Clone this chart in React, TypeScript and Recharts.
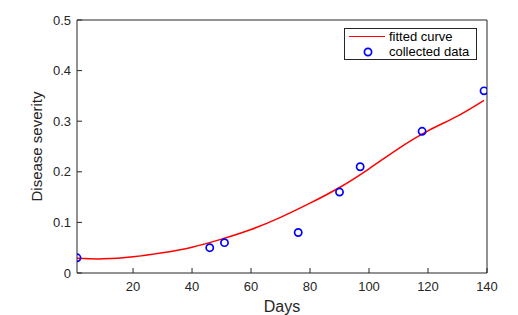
import {
  ComposedChart,
  Line,
  Scatter,
  XAxis,
  YAxis,
  Legend,
  Label,
} from 'recharts';

// collected field observations
const days = [1, 46, 51, 76, 90, 97, 118, 139];
const severity = [0.03, 0.05, 0.06, 0.08, 0.16, 0.21, 0.28, 0.36];

// fitted curve
const curveDays = [1, 10, 20, 30, 40, 50, 60, 70, 80, 90, 100, 110, 120, 130, 139];
const curveValues = [0.029, 0.028, 0.032, 0.04, 0.051, 0.067, 0.086, 0.11, 0.138, 0.169, 0.206, 0.246, 0.281, 0.31, 0.341];

const xTicks = [20, 40, 60, 80, 100, 120, 140];
const yTicks = [0, 0.1, 0.2, 0.3, 0.4, 0.5];

const FONT = '"Liberation Sans", Arial, Helvetica, sans-serif';
const AXIS = '#262626';
const TICK_LEN = 5;

const points = days.map((d, i) => ({ day: d, value: severity[i] }));
const curve = curveDays.map((d, i) => ({ day: d, value: curveValues[i] }));

const fmtY = (v: number) => (v === 0 ? '0' : v.toFixed(1));

function LeftTick({ x, y, payload }: any) {
  const ax = x + 6;
  return (
    <g>
      <line x1={ax} x2={ax + TICK_LEN} y1={y} y2={y} stroke={AXIS} />
      <text x={x} y={y} dy={4.5} textAnchor="end" fill={AXIS} fontSize={13} fontFamily={FONT}>
        {fmtY(payload.value)}
      </text>
    </g>
  );
}

function BottomTick({ x, y, payload }: any) {
  const ay = y - 8;
  return (
    <g>
      <line x1={x} x2={x} y1={ay} y2={ay - TICK_LEN} stroke={AXIS} />
      <text x={x} y={y} dy={10} textAnchor="middle" fill={AXIS} fontSize={13} fontFamily={FONT}>
        {payload.value}
      </text>
    </g>
  );
}

function RightTick({ x, y }: any) {
  return <line x1={x} x2={x - TICK_LEN} y1={y} y2={y} stroke={AXIS} />;
}

function TopTick({ x, y }: any) {
  return <line x1={x} x2={x} y1={y} y2={y + TICK_LEN} stroke={AXIS} />;
}

function Circle({ cx, cy }: any) {
  return <circle cx={cx} cy={cy} r={3.6} fill="none" stroke="#0000ff" strokeWidth={1.7} />;
}

function LegendBox() {
  return (
    <div
      style={{
        position: 'relative',
        width: 133,
        height: 32,
        border: `1px solid ${AXIS}`,
        background: '#fff',
        boxSizing: 'border-box',
        fontFamily: FONT,
        fontSize: 13,
        color: '#000',
        lineHeight: '15px',
      }}
    >
      <div style={{ position: 'absolute', left: 4, top: 7, width: 36, borderTop: '1.5px solid #ff0000' }} />
      <span style={{ position: 'absolute', left: 44, top: 0 }}>fitted curve</span>
      <svg style={{ position: 'absolute', left: 16, top: 16 }} width={14} height={14}>
        <circle cx={7} cy={7} r={3.6} fill="none" stroke="#0000ff" strokeWidth={1.7} />
      </svg>
      <span style={{ position: 'absolute', left: 44, top: 15 }}>collected data</span>
    </div>
  );
}

export default function App() {
  return (
    <div style={{ position: 'absolute', left: 0, top: 0, background: '#fff' }}>
      <ComposedChart width={518} height={315} margin={{ top: 0, right: 0, bottom: 0, left: 0 }}>
        <XAxis
          dataKey="day"
          type="number"
          domain={[1, 140]}
          ticks={xTicks}
          allowDataOverflow
          height={42}
          tickSize={0}
          tickMargin={8}
          stroke={AXIS}
          tick={<BottomTick />}
        >
          <Label value="Days" position="insideBottom" offset={3} fill={AXIS} fontSize={16} fontFamily={FONT} />
        </XAxis>
        <XAxis
          xAxisId="top"
          orientation="top"
          type="number"
          domain={[1, 140]}
          ticks={xTicks}
          height={20}
          tickSize={0}
          tickMargin={0}
          stroke={AXIS}
          tick={<TopTick />}
        />
        <YAxis
          type="number"
          domain={[0, 0.5]}
          ticks={yTicks}
          width={77}
          tickSize={0}
          tickMargin={6}
          stroke={AXIS}
          tick={<LeftTick />}
        >
          <Label value="Disease severity" angle={-90} position="center" dx={-2} fill={AXIS} fontSize={15} fontFamily={FONT} />
        </YAxis>
        <YAxis
          yAxisId="right"
          orientation="right"
          type="number"
          domain={[0, 0.5]}
          ticks={yTicks}
          width={31}
          tickSize={0}
          tickMargin={0}
          stroke={AXIS}
          tick={<RightTick />}
        />
        <Line
          data={curve}
          dataKey="value"
          type="natural"
          stroke="#ff0000"
          strokeWidth={1.5}
          dot={false}
          activeDot={false}
          isAnimationActive={false}
          legendType="line"
          name="fitted curve"
        />
        <Scatter data={points} dataKey="value" shape={<Circle />} isAnimationActive={false} name="collected data" />
        <Legend
          layout="horizontal"
          verticalAlign="middle"
          align="center"
          content={<LegendBox />}
          wrapperStyle={{ left: 344, top: 28, width: 133, height: 32, bottom: 'auto', right: 'auto' }}
        />
      </ComposedChart>
    </div>
  );
}
